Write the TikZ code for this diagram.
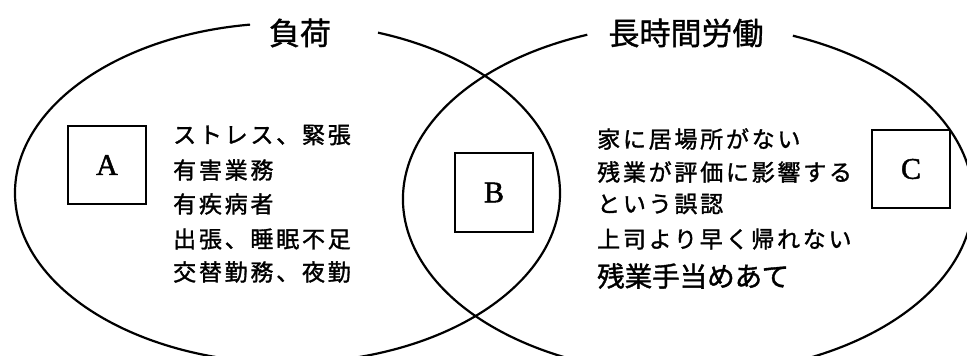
\documentclass[tikz,border=0pt]{standalone}
\usepackage{fontspec}
\setmainfont{Liberation Serif}
\newfontfamily\jp[FakeBold=1.2]{Noto Sans CJK JP}
\newfontfamily\jpsp[LetterSpace=12,FakeBold=1.4]{Noto Sans CJK JP}
\newfontfamily\jpbig[FakeBold=1.4]{Noto Sans CJK JP}
\newfontfamily\lettfont[FakeBold=1.5]{Liberation Serif}
\begin{document}
\begin{tikzpicture}[x=1pt,y=1pt,
  ell/.style={line width=2.2pt},
  lbox/.style={draw, line width=2.2pt, minimum width=78pt, minimum height=78pt, inner sep=0pt, font=\lettfont\fontsize{30}{30}\selectfont},
  ttl/.style={inner sep=0pt, font=\jp\fontsize{31}{31}\selectfont},
  itm/.style={anchor=west, inner sep=0pt, font=\jpsp\fontsize{23}{23}\selectfont},
  itmbig/.style={anchor=west, inner sep=0pt, font=\jpbig\fontsize{27.5}{27.5}\selectfont}]
\useasboundingbox (0,0) rectangle (967,356);
\clip (0,0) rectangle (967,356);
% ellipses with gaps for titles
\coordinate (cl) at (287.5,163);
\coordinate (cr) at (688,157);
\draw[ell] (cl) ++(97.9:272.5pt and 170pt) arc[start angle=97.9, end angle=430.6, x radius=272.5pt, y radius=170pt];
\draw[ell] (cr) ++(110.7:285pt and 175.6pt) arc[start angle=110.7, end angle=428.4, x radius=285pt, y radius=175.6pt];
% titles
\node[ttl] (t1) at (300,323) {負荷};
\node[ttl] (t2) at (686,323) {長時間労働};
% boxes
\node[lbox] (A) at (107,191) {A};
\node[lbox, minimum height=79pt] (B) at (494,163.5) {B};
\node[lbox] (C) at (911,187) {C};
% left items
\node[itm] (l1) at (173,221) {ストレス、緊張};
\node[itm] (l2) at (173,186) {有害業務};
\node[itm] (l3) at (173,152) {有疾病者};
\node[itm] (l4) at (173,117) {出張、睡眠不足};
\node[itm] (l5) at (173,84) {交替勤務、夜勤};
% right items
\node[itm] (r1) at (597,217) {家に居場所がない};
\node[itm] (r2) at (597,184) {残業が評価に影響する};
\node[itm] (r3) at (597,152) {という誤認};
\node[itm] (r4) at (597,117) {上司より早く帰れない};
\node[itmbig] (r5) at (597,80) {残業手当めあて};
\end{tikzpicture}
\end{document}
